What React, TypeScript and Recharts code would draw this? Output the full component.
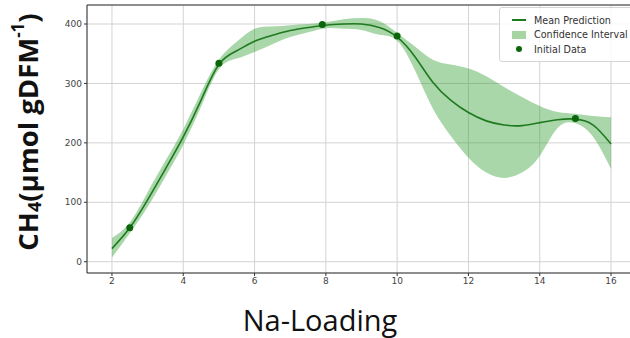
import {
  ComposedChart,
  Area,
  Line,
  Scatter,
  XAxis,
  YAxis,
  CartesianGrid,
  ReferenceLine,
  Legend,
} from "recharts";

// GP prediction sampled along Na-loading
const loading = [2, 2.5, 3, 3.5, 4, 4.5, 5, 5.5, 6, 6.5, 7, 7.5, 8, 8.5, 9, 9.5, 10, 10.5, 11, 11.5, 12, 12.5, 13, 13.5, 14, 14.5, 15, 15.5, 16];
const meanPred = [22, 57, 104, 156, 210, 272, 332, 355, 371, 381, 389, 394, 398, 400, 400, 394, 378, 345, 302, 272, 251, 237, 230, 229, 234, 239, 240, 230, 198];
const ciLow = [7, 48, 92, 143, 197, 261, 324, 342, 353, 366, 378, 386, 393, 392, 390, 382, 372, 322, 258, 212, 175, 150, 141, 150, 178, 225, 233, 210, 156];
const ciHigh = [40, 66, 117, 170, 223, 285, 340, 370, 392, 396, 398, 400, 403, 408, 410, 405, 385, 362, 340, 332, 325, 312, 294, 277, 262, 252, 249, 245, 243];

// measured points
const initLoading = [2.5, 5, 7.9, 10, 15];
const initCh4 = [57, 334, 399, 380, 241];

const xTicks = [2, 4, 6, 8, 10, 12, 14, 16];
const yTicks = [0, 100, 200, 300, 400];

const curveData = loading.map((x, i) => ({
  x,
  mean: meanPred[i],
  band: [ciLow[i], ciHigh[i]],
}));
const pointData = initLoading.map((x, i) => ({ x, y: initCh4[i] }));

const LINE = "#1f7a1f";
const DOT = "#0b660b";
const tickStyle = { fill: "#444", fontSize: 9, fontFamily: "DejaVu Sans" };

function YTitle() {
  const cx = 27;
  const cy = 132;
  return (
    <text
      x={cx}
      y={cy}
      transform={`rotate(-90, ${cx}, ${cy})`}
      textAnchor="middle"
      dominantBaseline="central"
      fontFamily="Open Sans"
      fontWeight={700}
      fontSize={27.5}
      fill="#111"
    >
      CH
      <tspan fontSize={18} dy={7}>4</tspan>
      <tspan dy={-7}>(μmol gDFM</tspan>
      <tspan fontSize={17} dy={-10}>-1</tspan>
      <tspan dy={10}>)</tspan>
    </text>
  );
}

function XTitle() {
  return (
    <text
      x={320}
      y={331}
      textAnchor="middle"
      fontFamily="Open Sans"
      fontSize={29}
      fill="#111"
    >
      Na-Loading
    </text>
  );
}

function LegendBox() {
  const row = { display: "flex", alignItems: "center", height: 14.5, whiteSpace: "nowrap" as const };
  const key = { width: 14, marginRight: 8, display: "flex", justifyContent: "center" };
  return (
    <div
      style={{
        background: "rgba(255,255,255,0.85)",
        border: "1px solid #d4d4d4",
        borderRadius: 3,
        padding: "5px 8px 4px 12px",
        fontFamily: "DejaVu Sans",
        fontSize: 9.6,
        color: "#333",
      }}
    >
      <div style={row}>
        <span style={key}>
          <span style={{ width: 14, height: 2, background: LINE }} />
        </span>
        Mean Prediction
      </div>
      <div style={row}>
        <span style={key}>
          <span style={{ width: 14, height: 8, background: "#a6d5a2" }} />
        </span>
        Confidence Interval
      </div>
      <div style={row}>
        <span style={key}>
          <span style={{ width: 6, height: 6, borderRadius: 3, background: DOT }} />
        </span>
        Initial Data
      </div>
    </div>
  );
}

export default function App() {
  return (
    <div
      style={{
        position: "fixed",
        left: 0,
        top: 0,
        width: 630,
        height: 338,
        overflow: "hidden",
        background: "#fff",
      }}
    >
      <ComposedChart
        width={640}
        height={338}
        data={curveData}
        margin={{ top: 5, right: 4, bottom: 0, left: 0 }}
      >
        <CartesianGrid stroke="#d3d3d3" strokeWidth={1} />
        <XAxis
          dataKey="x"
          type="number"
          domain={[1.3, 16.7]}
          ticks={xTicks}
          height={65}
          stroke="#333"
          tickSize={3}
          tick={tickStyle}
          label={{ content: XTitle }}
        />
        <YAxis
          type="number"
          domain={[-19, 432]}
          ticks={yTicks}
          width={87}
          stroke="#333"
          tickSize={3}
          tick={tickStyle}
          label={{ content: YTitle }}
        />
        <ReferenceLine y={432} stroke="#333" />
        <Area
          dataKey="band"
          type="natural"
          stroke="none"
          fill="#32a032"
          fillOpacity={0.42}
          isAnimationActive={false}
        />
        <Line
          dataKey="mean"
          type="natural"
          stroke={LINE}
          strokeWidth={1.6}
          dot={false}
          isAnimationActive={false}
        />
        <Scatter
          data={pointData}
          dataKey="y"
          fill={DOT}
          shape={(p: any) => <circle cx={p.cx} cy={p.cy} r={3.5} fill={DOT} />}
          isAnimationActive={false}
        />
        <Legend
          layout="horizontal"
          verticalAlign="middle"
          align="center"
          content={LegendBox}
          wrapperStyle={{ top: 7, left: 499, width: 150, height: "auto" }}
        />
      </ComposedChart>
    </div>
  );
}
